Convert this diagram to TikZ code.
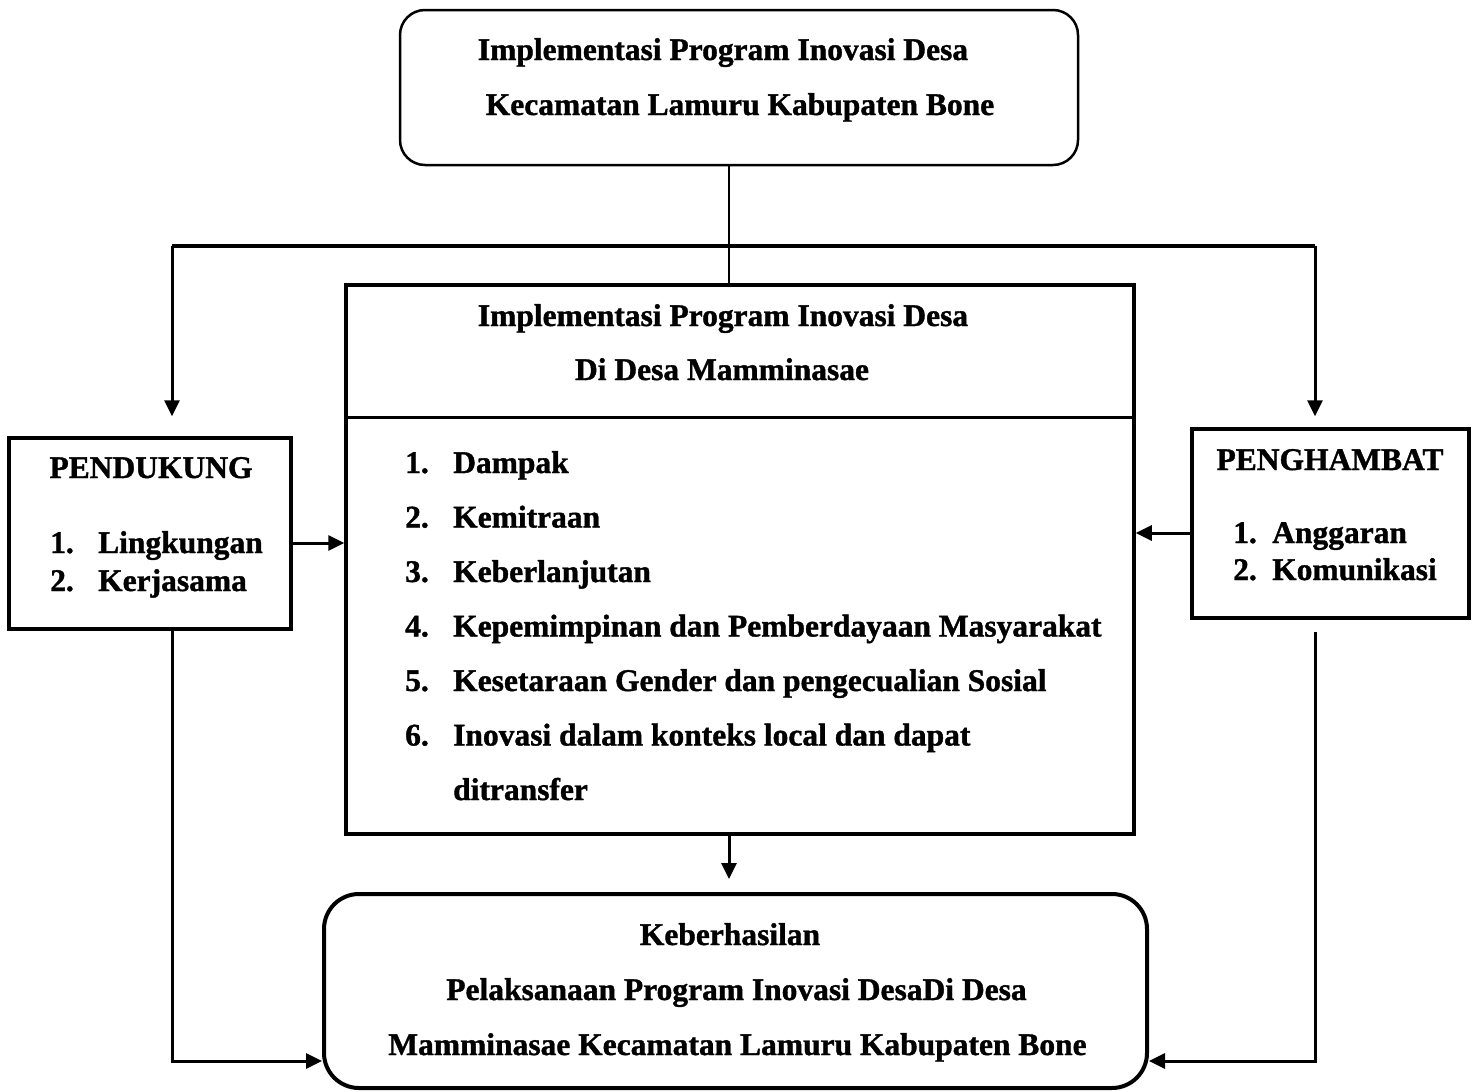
\documentclass[tikz,border=0pt]{standalone}
\usepackage{fontspec}
\setmainfont{Liberation Serif}[BoldFeatures={FakeBold=1.2}]
\usetikzlibrary{arrows.meta}

\begin{document}
\begin{tikzpicture}[x=1pt, y=-1pt, >={Triangle[length=16pt,width=15pt]},
  frame/.style={draw, line width=3.5pt, inner sep=0pt},
  txt/.style={inner sep=0pt, anchor=base, font=\fontsize{31.5}{37}\selectfont\bfseries},
  txtl/.style={txt, anchor=base west},
  link/.style={line width=3pt}]
  \useasboundingbox (0,0) rectangle (1478,1092);
  % boxes
  \node[frame, line width=2.5pt, rounded corners=25pt, minimum width=678pt, minimum height=155pt] (top) at (739,87.5) {};
  \node[frame, minimum width=788pt, minimum height=549pt] (mid) at (740,559.5) {};
  \draw[line width=3.5pt] ([yshift=-134pt]mid.north west) -- ([yshift=-134pt]mid.north east);
  \node[frame, minimum width=282pt, minimum height=191pt] (pend) at (150,533.5) {};
  \node[frame, minimum width=277pt, minimum height=189pt] (pengh) at (1330.5,523.5) {};
  \node[frame, line width=4pt, rounded corners=35pt, minimum width=823pt, minimum height=194pt] (res) at (735.5,991) {};
  % texts
  \node[txt] (topA) at (723,60) {Implementasi Program Inovasi Desa};
  \node[txt] (topB) at (740,115) {Kecamatan Lamuru Kabupaten Bone};
  \node[txt] (midA) at (723,326) {Implementasi Program Inovasi Desa};
  \node[txt] (midB) at (722,380) {Di Desa Mamminasae};
  \foreach \itm [count=\i] in {Dampak, Kemitraan, Keberlanjutan,
      Kepemimpinan dan Pemberdayaan Masyarakat,
      Kesetaraan Gender dan pengecualian Sosial,
      Inovasi dalam konteks local dan dapat} {
    \node[txtl] (num\i) at (405,{473+(\i-1)*54.5}) {\i.};
    \node[txtl] (itm\i) at (453,{473+(\i-1)*54.5}) {\itm};
  }
  \node[txtl] (itm7) at (453,800) {ditransfer};
  \node[txt] (pendT) at (151,478) {PENDUKUNG};
  \node[txtl] (pendN1) at (50,553) {1.};
  \node[txtl] (pendI1) at (98,553) {Lingkungan};
  \node[txtl] (pendN2) at (50,591) {2.};
  \node[txtl] (pendI2) at (98,591) {Kerjasama};
  \node[txt] (penghT) at (1330,470) {PENGHAMBAT};
  \node[txtl] (penghN1) at (1233,543) {1.};
  \node[txtl] (penghI1) at (1272,543) {Anggaran};
  \node[txtl] (penghN2) at (1233,580) {2.};
  \node[txtl] (penghI2) at (1272,580) {Komunikasi};
  \node[txt] (resA) at (730,945) {Keberhasilan};
  \node[txt] (resB) at (736.5,1000) {Pelaksanaan Program Inovasi DesaDi Desa};
  \node[txt] (resC) at (737.5,1055) {Mamminasae Kecamatan Lamuru Kabupaten Bone};
  % connectors
  \coordinate (split) at (729,246);
  \coordinate (lft) at (172,246);
  \coordinate (rgt) at (1315,246);
  \draw[line width=2.5pt] (split |- top.south) -- (split |- mid.north);
  \draw[line width=4.5pt] (lft) -- (rgt);
  \draw[link,->,shorten >=20pt] (lft) -- (lft |- pend.north);
  \draw[link,->,shorten >=11pt] (rgt) -- (rgt |- pengh.north);
  \draw[link,->] ([yshift=-9.5pt]pend.east) -- ([yshift=-9.5pt]pend.east -| mid.west);
  \draw[link,->] ([yshift=-9.5pt]pengh.west) -- ([yshift=-9.5pt]pengh.west -| mid.east);
  \draw[link,->,shorten >=13pt] (split |- mid.south) -- (split |- res.north);
  \draw[link,->] (lft |- pend.south) |- ([yshift=-70pt]res.west);
  \draw[link,->] ([yshift=-12pt]rgt |- pengh.south) |- ([yshift=-70pt]res.east);
\end{tikzpicture}
\end{document}
